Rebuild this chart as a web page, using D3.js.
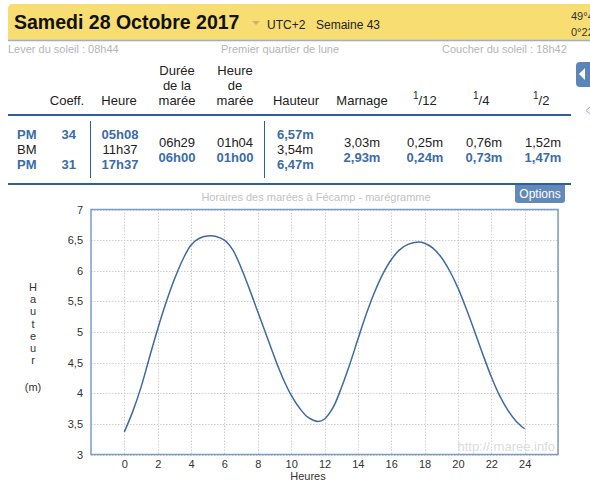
<!DOCTYPE html>
<html><head><meta charset="utf-8">
<script src="https://cdn.jsdelivr.net/npm/d3@7"></script>
<style>
html,body{margin:0;padding:0;background:#fff;overflow:hidden;}
svg{display:block;font-family:"Liberation Sans",Arial,sans-serif;}
</style></head>
<body>
<svg id="c" width="590" height="481"></svg>
<script>
// ---- data ----
const hours   = [0,0.5,1,1.5,2,2.5,3,3.5,4,4.5,5.13,5.5,6,6.5,7,7.5,8,8.5,9,9.5,10,10.5,11,11.62,12,12.5,13,13.5,14,14.5,15,15.5,16,16.5,17,17.62,18,18.5,19,19.5,20,20.5,21,21.5,22,22.5,23,23.5,24];
const heights = [3.37,3.70,4.10,4.58,5.05,5.48,5.86,6.18,6.42,6.53,6.57,6.56,6.50,6.34,6.05,5.70,5.33,4.96,4.59,4.25,3.97,3.76,3.61,3.54,3.58,3.76,4.08,4.46,4.88,5.29,5.65,5.95,6.18,6.34,6.43,6.47,6.45,6.37,6.22,6.00,5.72,5.38,5.01,4.63,4.27,3.96,3.72,3.54,3.42];
const xTicks = [0,2,4,6,8,10,12,14,16,18,20,22,24];
const yTicks = [3,3.5,4,4.5,5,5.5,6,6.5,7];

const tideTypes   = ["PM","BM","PM"];
const coeffs      = ["34","","31"];
const tideTimes   = ["05h08","11h37","17h37"];
const tideHeights = ["6,57m","3,54m","6,47m"];
const durees      = ["06h29","06h00"];
const heuresMaree = ["01h04","01h00"];
const marnages    = ["3,03m","2,93m"];
const douziemes   = ["0,25m","0,24m"];
const quarts      = ["0,76m","0,73m"];
const demis       = ["1,52m","1,47m"];

const BLUE = "#3a6ca8";
const svg = d3.select("#c");

// ---- header ----
svg.append("path").attr("d","M8,9 Q8,4 13,4 L590,4 L590,40 L8,40 Z").attr("fill","#f8dd73");
svg.append("line").attr("x1",8).attr("x2",590).attr("y1",40.5).attr("y2",40.5).attr("stroke","#9fb0bf").attr("stroke-width",1.5);
svg.append("text").attr("x",14).attr("y",29).attr("font-size",19.5).attr("font-weight","bold").attr("fill","#111").text("Samedi 28 Octobre 2017");
svg.append("path").attr("d","M252,21 L260,21 L256,25 Z").attr("fill","#c8b56a");
svg.append("text").attr("x",267).attr("y",29).attr("font-size",12).attr("fill","#222").text("UTC+2");
svg.append("text").attr("x",316).attr("y",29).attr("font-size",12).attr("fill","#222").text("Semaine 43");
svg.append("text").attr("x",571).attr("y",20).attr("font-size",11).attr("fill","#333").text("49°45'N");
svg.append("text").attr("x",571).attr("y",36).attr("font-size",11).attr("fill","#333").text("0°22'E");

svg.append("text").attr("x",8).attr("y",53).attr("font-size",11).attr("fill","#b5b5b5").text("Lever du soleil : 08h44");
svg.append("text").attr("x",221).attr("y",53).attr("font-size",11).attr("fill","#b5b5b5").text("Premier quartier de lune");
svg.append("text").attr("x",442).attr("y",53).attr("font-size",11).attr("fill","#b5b5b5").text("Coucher du soleil : 18h42");

// ---- table header ----
const th = svg.append("g").attr("font-size",13).attr("fill","#222");
function htext(x, y, t, anchor){ th.append("text").attr("x",x).attr("y",y).attr("text-anchor",anchor||"middle").text(t); }
htext(67,105,"Coeff."); htext(119,105,"Heure");
htext(177,75,"Durée"); htext(177,90,"de la"); htext(177,105,"marée");
htext(235,75,"Heure"); htext(235,90,"de"); htext(235,105,"marée");
htext(296,105,"Hauteur"); htext(362,105,"Marnage");
function frac(x, num, den){
  const t = th.append("text").attr("x",x).attr("y",105);
  t.append("tspan").attr("font-size",10).attr("dy",-6).text(num);
  t.append("tspan").attr("font-size",13).attr("dy",6).text("/");
  t.append("tspan").attr("font-size",13).attr("dy",0).text(den);
}
frac(413,"1","12"); frac(473,"1","4"); frac(533,"1","2");

svg.append("rect").attr("x",8).attr("y",114).attr("width",563).attr("height",2).attr("fill","#2b5fa0");
svg.append("rect").attr("x",8).attr("y",183).attr("width",563).attr("height",2).attr("fill","#2b5fa0");
svg.append("rect").attr("x",90).attr("y",121).attr("width",1).attr("height",57).attr("fill","#2b5fa0");
svg.append("rect").attr("x",264).attr("y",121).attr("width",1).attr("height",57).attr("fill","#2b5fa0");

// ---- table rows ----
const rowY = [139,154,169];
const tb = svg.append("g").attr("font-size",13);
function isPM(i){ return tideTypes[i]==="PM"; }
tideTypes.forEach((t,i)=>{
  const col = isPM(i)?BLUE:"#222", fw = isPM(i)?"bold":"normal";
  tb.append("text").attr("x",17).attr("y",rowY[i]).attr("fill",col).attr("font-weight",fw).text(t);
  tb.append("text").attr("x",76).attr("y",rowY[i]).attr("text-anchor","end").attr("fill",col).attr("font-weight",fw).text(coeffs[i]);
  tb.append("text").attr("x",120).attr("y",rowY[i]).attr("text-anchor","middle").attr("fill",col).attr("font-weight",fw).text(tideTimes[i]);
  tb.append("text").attr("x",277).attr("y",rowY[i]).attr("fill",col).attr("font-weight",fw).text(tideHeights[i]);
});
const row2Y = [146.5,161.5];
const cols2 = [[177,durees],[235,heuresMaree],[362,marnages],[425,douziemes],[484,quarts],[543,demis]];
cols2.forEach(([x,arr])=>{
  arr.forEach((v,i)=>{
    tb.append("text").attr("x",x).attr("y",row2Y[i]).attr("text-anchor","middle")
      .attr("fill",i===0?"#222":BLUE).attr("font-weight",i===0?"normal":"bold").text(v);
  });
});

// side widgets
svg.append("path").attr("d","M590,62 L580,62 Q576,62 576,66 L576,83 Q576,87 580,87 L590,87 Z").attr("fill","#5b84b8");
svg.append("path").attr("d","M585,68 L585,80 L579,74 Z").attr("fill","#fff");
svg.append("path").attr("d","M590,107 L586,110.5 L590,114").attr("fill","none").attr("stroke","#8fa8c8").attr("stroke-width",1);

// Options button
svg.append("path").attr("d","M515,185 L565,185 L565,200 Q565,203 562,203 L518,203 Q515,203 515,200 Z").attr("fill","#6389b9");
svg.append("text").attr("x",540).attr("y",198).attr("text-anchor","middle").attr("font-size",12).attr("fill","#fff").text("Options");

// ---- chart ----
svg.append("text").attr("x",316).attr("y",201).attr("text-anchor","middle").attr("font-size",11).attr("fill","#c2c2c2")
  .text("Horaires des marées à Fécamp - marégramme");

const x = d3.scaleLinear().domain([-2,26]).range([91,558]);
const y = d3.scaleLinear().domain([3,7]).range([454.5,209.5]);
const fr = d3.formatLocale({decimal:",",thousands:" ",grouping:[3],currency:["","€"]});
const fmt = v => fr.format("~g")(v);

// grid
const grid = svg.append("g").attr("stroke","#d0d0d0").attr("stroke-width",1).attr("stroke-dasharray","1.5,1.5");
xTicks.concat([26]).forEach(t=>{ grid.append("line").attr("x1",Math.round(x(t))+0.5).attr("x2",Math.round(x(t))+0.5).attr("y1",y(7)).attr("y2",y(3)); });
yTicks.forEach(t=>{ grid.append("line").attr("y1",Math.round(y(t))+0.5).attr("y2",Math.round(y(t))+0.5).attr("x1",x(-2)).attr("x2",x(26)); });

// watermark
svg.append("text").attr("x",555).attr("y",451).attr("text-anchor","end").attr("font-size",13).attr("fill","#dcdcdc").text("http:// maree.info");

// line
const line = d3.line().x((d,i)=>x(hours[i])).y(d=>y(d)).curve(d3.curveCatmullRom.alpha(0.5));
svg.append("path").attr("d",line(heights)).attr("fill","none").attr("stroke","#3d6aa3").attr("stroke-width",1.5);

// frame
svg.append("rect").attr("x",x(-2)).attr("y",y(7)).attr("width",x(26)-x(-2)).attr("height",y(3)-y(7))
  .attr("fill","none").attr("stroke","#7a9cc6").attr("stroke-width",1.5);

// axes
const xAxis = d3.axisBottom(x).tickValues(xTicks).tickSize(0).tickPadding(6).tickFormat(fmt);
const gx = svg.append("g").attr("transform",`translate(0,${y(3)})`).call(xAxis);
gx.select(".domain").remove();
gx.selectAll("text").attr("font-size",11).attr("fill","#333").attr("font-family","Liberation Sans,Arial,sans-serif");
const yAxis = d3.axisLeft(y).tickValues(yTicks).tickSize(0).tickPadding(8).tickFormat(fmt);
const gy = svg.append("g").attr("transform",`translate(${x(-2)},0)`).call(yAxis);
gy.select(".domain").remove();
gy.selectAll("text").attr("font-size",11).attr("fill","#333").attr("font-family","Liberation Sans,Arial,sans-serif");

svg.append("text").attr("x",308).attr("y",480).attr("text-anchor","middle").attr("font-size",11).attr("fill","#333").text("Heures");
const yl = "Hauteur".split("");
yl.forEach((c,i)=>{ svg.append("text").attr("x",33).attr("y",291+i*12.2).attr("text-anchor","middle").attr("font-size",11).attr("fill","#333").text(c); });
svg.append("text").attr("x",33).attr("y",391).attr("text-anchor","middle").attr("font-size",11).attr("fill","#333").text("(m)");
</script>
</body></html>
